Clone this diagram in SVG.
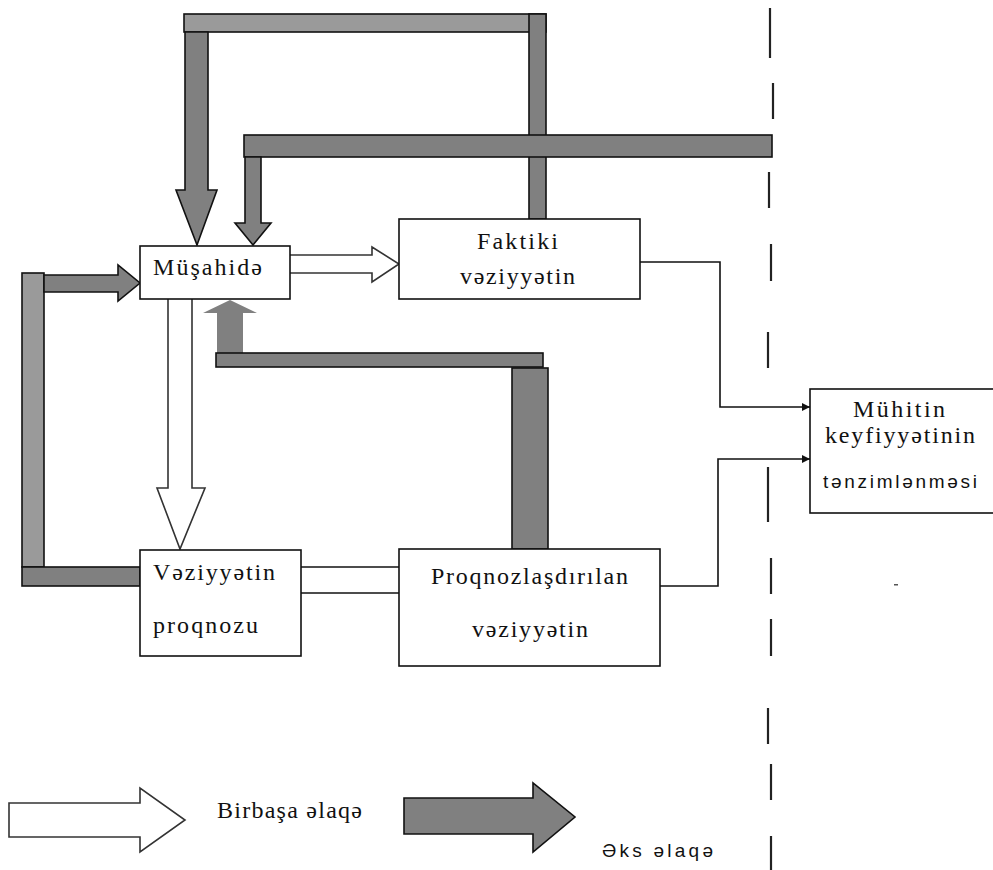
<svg xmlns="http://www.w3.org/2000/svg" width="993" height="870" viewBox="0 0 993 870">
<style>
.box{fill:#fff;stroke:#111;stroke-width:1.6}
.dk{fill:#808080;stroke:#111;stroke-width:1.6}
.lt{fill:#9a9a9a;stroke:#111;stroke-width:1.6}
.wa{fill:#fff;stroke:#333;stroke-width:1.6}
.ln{fill:none;stroke:#111;stroke-width:1.6}
.dash{stroke:#222;stroke-width:2.2}
.t{font-family:"Liberation Serif","Times New Roman",serif;font-size:24px;fill:#111}
.s{font-family:"Liberation Sans",Arial,sans-serif;font-size:19px;fill:#111}
</style>
<defs>
<marker id="ah" viewBox="0 0 10 10" refX="10" refY="5" markerWidth="8" markerHeight="8" markerUnits="userSpaceOnUse" orient="auto">
<path d="M0,0 L10,5 L0,10 Z" fill="#111"/>
</marker>
</defs>

<g id="dashed-line">
<line class="dash" x1="770" y1="8" x2="770" y2="58"/>
<line class="dash" x1="773" y1="83" x2="773" y2="119"/>
<line class="dash" x1="769" y1="172" x2="769" y2="208"/>
<line class="dash" x1="771" y1="244" x2="771" y2="281"/>
<line class="dash" x1="768" y1="332" x2="768" y2="368"/>
<line class="dash" x1="768" y1="467" x2="768" y2="522"/>
<line class="dash" x1="771" y1="558" x2="771" y2="594"/>
<line class="dash" x1="771" y1="619" x2="771" y2="656"/>
<line class="dash" x1="768" y1="708" x2="768" y2="744"/>
<line class="dash" x1="771" y1="764" x2="771" y2="800"/>
<line class="dash" x1="771" y1="836" x2="771" y2="870"/>
</g>

<g id="connectors">
<rect class="lt" x="184" y="14" width="362" height="18"/>
<rect class="dk" x="529" y="14" width="17" height="205"/>
<polygon class="dk" points="185,32 208,32 208,190 217,190 197,245 176,190 185,190"/>
<rect class="dk" x="244" y="135" width="528" height="22"/>
<polygon class="dk" points="245,157 261,157 261,223 271,223 253,245 235,223 245,223"/>
<rect class="lt" x="22" y="273" width="22" height="294"/>
<rect class="dk" x="22" y="567" width="118" height="19"/>
<polygon class="dk" points="44,275 118,275 118,265 140,283 118,301 118,292 44,292"/>
<polygon fill="#808080" points="217,353 217,313 203,313 230,300 257,313 243,313 243,353"/>
<rect class="dk" x="216" y="353" width="327" height="14"/>
<rect class="dk" x="512" y="368" width="36" height="181"/>
<polyline class="wa" points="290,255 372,255 372,247 399,264 372,282 372,273 290,273"/>
<polyline class="wa" points="168,299 168,488 157,488 180,549 205,488 192,488 192,299"/>
<line class="ln" x1="301" y1="567" x2="399" y2="567"/>
<line class="ln" x1="301" y1="593" x2="399" y2="593"/>
<polyline class="ln" points="640,262 720,262 720,407 810,407" marker-end="url(#ah)"/>
<polyline class="ln" points="660,586 718,586 718,459 810,459" marker-end="url(#ah)"/>
</g>

<g id="musahide">
<rect class="box" x="140" y="246" width="150" height="53"/>
<text class="t" x="153" y="275" textLength="109">Müşahidə</text>
</g>

<g id="faktiki">
<rect class="box" x="399" y="219" width="241" height="80"/>
<text class="t" x="477" y="249" textLength="81">Faktiki</text>
<text class="t" x="460" y="284" textLength="115">vəziyyətin</text>
</g>

<g id="veziyyetin-proqnozu">
<rect class="box" x="140" y="550" width="161" height="106"/>
<text class="t" x="153" y="580" textLength="122">Vəziyyətin</text>
<text class="t" x="153" y="633" textLength="105">proqnozu</text>
</g>

<g id="proqnozlasdirilan">
<rect class="box" x="399" y="549" width="261" height="117"/>
<text class="t" x="431" y="584" textLength="197">Proqnozlaşdırılan</text>
<text class="t" x="472" y="637" textLength="116">vəziyyətin</text>
</g>

<g id="muhitin">
<rect class="box" x="810" y="389" width="190" height="124"/>
<text class="t" x="853" y="417" textLength="92">Mühitin</text>
<text class="t" x="825" y="443" textLength="150">keyfiyyətinin</text>
<text class="s" x="823" y="488" textLength="154">tənzimlənməsi</text>
<rect x="894" y="584" width="4" height="1.5" fill="#555"/>
</g>

<g id="legend">
<polygon class="wa" points="9,803 140,803 140,788 185,820 140,852 140,837 9,837"/>
<text class="t" x="217" y="818" textLength="145">Birbaşa əlaqə</text>
<polygon class="dk" points="404,798 533,798 533,783 575,817 533,852 533,834 404,834"/>
<text class="s" x="602" y="857" textLength="111">Əks əlaqə</text>
</g>
</svg>
